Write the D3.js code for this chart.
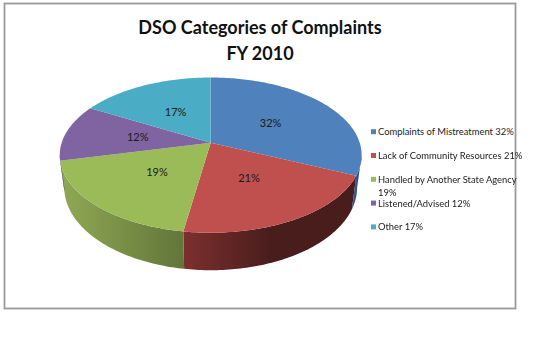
<!DOCTYPE html>
<html>
<head>
<meta charset="utf-8">
<script src="https://cdnjs.cloudflare.com/ajax/libs/d3/7.8.5/d3.min.js"></script>
<style>
  html, body { margin: 0; padding: 0; background: #fff; }
  svg { display: block; filter: blur(0.35px); }
  text { font-family: Lato, "Open Sans", sans-serif; }
</style>
</head>
<body>
<div class="canvas"></div>
<script>
const titleLines = ["DSO Categories of Complaints", "FY 2010"];
const categories = ["Complaints of Mistreatment", "Lack of Community Resources", "Handled by Another State Agency", "Listened/Advised", "Other"];
const values = [32, 21, 19, 12, 17];
const topColors = ["#4f81bd", "#c0504d", "#9bbb59", "#8064a2", "#4bacc6"];
const wallLeft = ["#2a5a90", "#7c302e", "#90a954", "#5f4a78", "#37808f"];
const wallRight = ["#17375e", "#4a1d1d", "#62763a", "#3f3150", "#255560"];
const wallFade = [1, 0.5, 1, 1, 1];   // how far along the wall the dark colour is reached

const width = 540, height = 360;

const svg = d3.select('.canvas')
  .append('svg')
    .attr('width', width)
    .attr('height', height);

const defs = svg.append('defs');

// chart area border
svg.append('rect')
  .attr('x', 4.5).attr('y', 3.5)
  .attr('width', 511).attr('height', 305)
  .attr('fill', '#fff')
  .attr('stroke', '#999')
  .attr('stroke-width', 1.8);

// title
svg.selectAll('.title')
  .data(titleLines)
  .enter().append('text')
    .attr('class', 'title')
    .attr('x', 260)
    .attr('y', (d, i) => 33.5 + i * 26.5)
    .attr('text-anchor', 'middle')
    .attr('font-weight', 700)
    .attr('font-size', 18)
    .attr('fill', '#111')
    .text(d => d);

// tilted disc: a unit circle seen in perspective, so the apex sits above the ellipse centre
const tilt = 0.16;
const xScale = d3.scaleLinear().domain([-1, 1]).range([210.7 - 149, 210.7 + 149]);
const yScale = d3.scaleLinear().domain([-1, 1]).range([142.7 - 75.6, 142.7 + 75.6]);
const depth = 31.5;   // height of the wall, before perspective
const shrink = 0.97;  // the bottom rim is a bit narrower than the top rim

function project(angle, r) {
  const u = r * Math.sin(angle), v = -r * Math.cos(angle);
  const w = 1 - tilt * v;
  return [xScale(u / w), yScale(v / w), w];
}

function topPoint(angle) {
  return project(angle, 1).slice(0, 2);
}

function bottomPoint(angle) {
  const p = project(angle, 1);
  return [xScale(0) + (p[0] - xScale(0)) * shrink, p[1] + depth / p[2]];
}

const pie = d3.pie().sort(null).value(d => d)(values);
const line = d3.line();
const step = Math.PI / 180;

function angleRange(a0, a1) {
  const n = Math.max(1, Math.ceil((a1 - a0) / step));
  return d3.range(n + 1).map(i => a0 + (a1 - a0) * i / n);
}

// side wall, only the part of the rim that faces the viewer
const wall = svg.append('g');
pie.forEach((s, i) => {
  const a0 = Math.max(s.startAngle, Math.PI / 2 + tilt);
  const a1 = Math.min(s.endAngle, 3 * Math.PI / 2 - tilt);
  if (a1 <= a0) return;
  const angles = angleRange(a0, a1);
  const grad = defs.append('linearGradient')
    .attr('id', 'wall' + i)
    .attr('gradientUnits', 'userSpaceOnUse')
    .attr('x1', topPoint(a1)[0]).attr('y1', 0)
    .attr('x2', topPoint(a0)[0]).attr('y2', 0);
  grad.append('stop').attr('offset', 0).attr('stop-color', wallLeft[i]);
  grad.append('stop').attr('offset', wallFade[i]).attr('stop-color', wallRight[i]);
  wall.append('path')
    .attr('d', line([...angles.map(topPoint), ...angles.slice().reverse().map(bottomPoint)]) + 'Z')
    .attr('fill', `url(#wall${i})`);
});

// top of the pie
svg.append('g').selectAll('path')
  .data(pie)
  .enter().append('path')
    .attr('d', d => {
      const rim = angleRange(d.startAngle, d.endAngle).map(topPoint);
      return line([project(0, 0).slice(0, 2), ...rim]) + 'Z';
    })
    .attr('fill', (d, i) => topColors[i]);

// percent labels
svg.append('g').selectAll('text')
  .data(pie)
  .enter().append('text')
    .attr('x', d => project((d.startAngle + d.endAngle) / 2, 0.5)[0])
    .attr('y', d => project((d.startAngle + d.endAngle) / 2, 0.5)[1] + 4)
    .attr('text-anchor', 'middle')
    .attr('font-size', 11)
    .attr('fill', '#1a1a1a')
    .text(d => d.value + '%');

// legend
const legendY = d3.scalePoint().domain(categories).range([131.7, 226.9]);
const legend = svg.append('g').selectAll('g')
  .data(categories)
  .enter().append('g')
    .attr('transform', d => `translate(371,${legendY(d)})`);

legend.append('rect')
  .attr('x', 0).attr('y', -2.5)
  .attr('width', 5).attr('height', 5)
  .attr('fill', (d, i) => topColors[i]);

legend.append('text')
  .attr('x', 7)
  .attr('y', 3.5)
  .attr('font-size', 9.4)
  .attr('fill', '#222')
  .text((d, i) => i === 2 ? d : d + ' ' + values[i] + '%');

// the long entry wraps onto a second line
legend.filter((d, i) => i === 2).append('text')
  .attr('x', 7)
  .attr('y', 16.5)
  .attr('font-size', 9.4)
  .attr('fill', '#222')
  .text(values[2] + '%');
</script>
</body>
</html>
